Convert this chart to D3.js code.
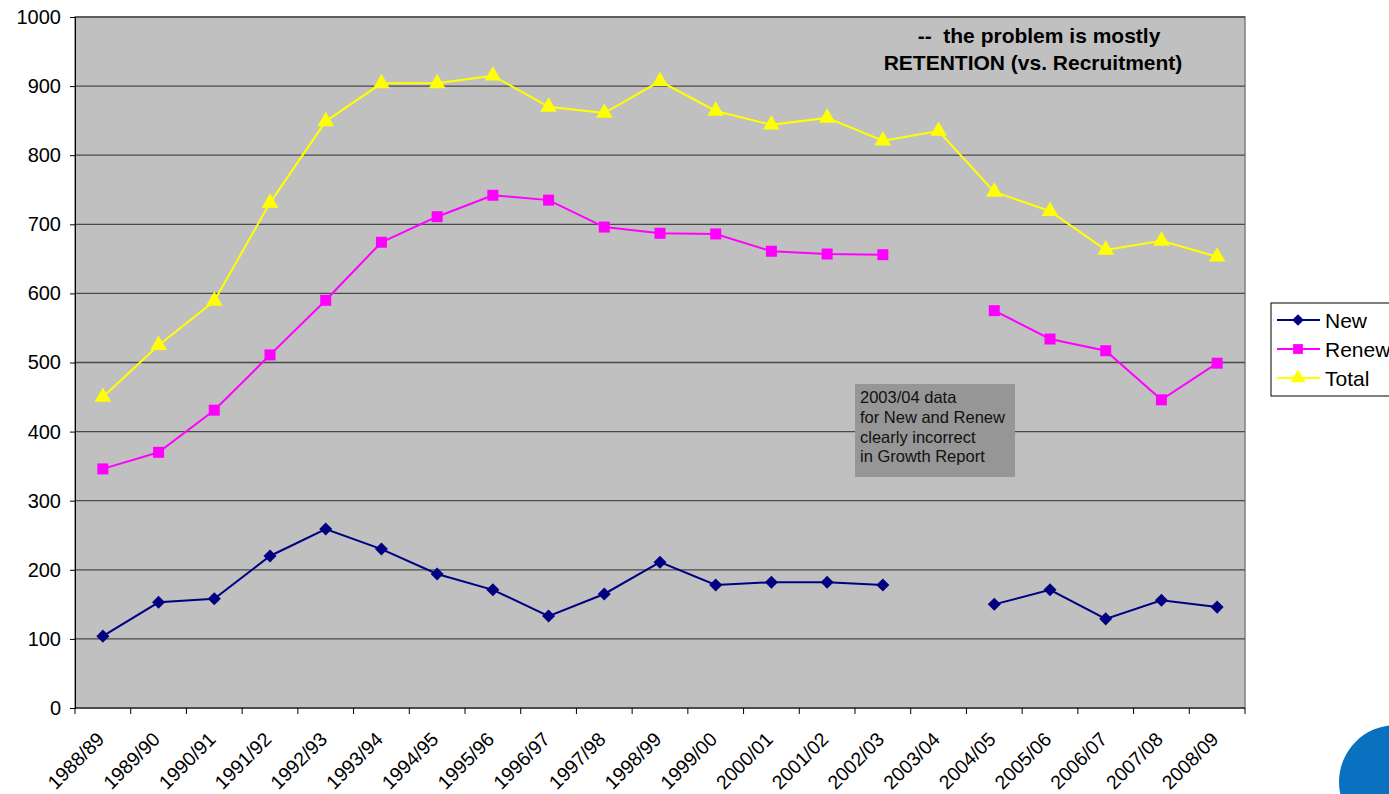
<!DOCTYPE html>
<html>
<head>
<meta charset="utf-8">
<script src="https://cdn.jsdelivr.net/npm/d3@7"></script>
<style>
	body { margin: 0; background: #fff; }
	svg { display: block; font-family: Arial, "Liberation Sans", sans-serif; }
	text { white-space: pre; }
</style>
</head>
<body>
<svg id="chart" width="1389" height="794"></svg>
<script>
// categories (school years) and series values
var years = ["1988/89", "1989/90", "1990/91", "1991/92", "1992/93", "1993/94", "1994/95",
	"1995/96", "1996/97", "1997/98", "1998/99", "1999/00", "2000/01", "2001/02", "2002/03",
	"2003/04", "2004/05", "2005/06", "2006/07", "2007/08", "2008/09"];
var newVals = [104, 153, 158, 220, 259, 230, 194, 171, 133, 165, 211, 178, 182, 182, 178,
	null, 150, 171, 129, 156, 146];
var renewVals = [346, 370, 431, 511, 590, 674, 711, 742, 735, 696, 687, 686, 661, 657, 656,
	null, 575, 534, 517, 446, 499];
var totalVals = [450, 525, 589, 731, 849, 904, 904, 915, 870, 861, 907, 864, 844, 854, 821,
	835, 747, 719, 663, 676, 653];
var yTicks = [0, 100, 200, 300, 400, 500, 600, 700, 800, 900, 1000];

// diamond = square turned 45 degrees
var series = [
	{name: "New", values: newVals, color: "#000080", symbol: d3.symbolSquare, size: 85, rot: 45},
	{name: "Renew", values: renewVals, color: "#FF00FF", symbol: d3.symbolSquare, size: 121, rot: 0},
	{name: "Total", values: totalVals, color: "#FFFF00", symbol: d3.symbolTriangle, size: 120, rot: 0}
];

var margin = {top: 17, left: 75},
	width = 1170,
	height = 691;

var svg = d3.select("#chart");
var g = svg.append("g")
	.attr("transform", "translate(" + margin.left + "," + margin.top + ")");

var x = d3.scaleBand()
	.domain(years)
	.range([0, width]);
var y = d3.scaleLinear()
	.domain([0, 1000])
	.range([height, 0]);

// plot background
g.append("rect")
	.attr("width", width)
	.attr("height", height)
	.attr("fill", "#C0C0C0")
	.attr("stroke", "#808080")
	.attr("stroke-width", 1.5);

// gridlines
g.selectAll(".grid")
	.data(yTicks.filter(function(d) { return d > 0; }))
	.enter().append("line")
	.attr("x1", 0)
	.attr("x2", width)
	.attr("y1", function(d) { return y(d); })
	.attr("y2", function(d) { return y(d); })
	.attr("stroke", "#4a4a4a")
	.attr("stroke-width", 1.3);

// y axis
var yAxis = g.append("g")
	.call(d3.axisLeft(y).tickValues(yTicks).tickFormat(d3.format("d")).tickSize(5).tickPadding(9));
yAxis.attr("font-family", null).attr("font-size", null);
yAxis.select(".domain").attr("stroke", "#000");
yAxis.selectAll("text").attr("font-size", 20).attr("fill", "#000");

// x axis: ticks between categories
var xAxis = g.append("g")
	.attr("transform", "translate(0," + height + ")");
xAxis.append("line")
	.attr("x1", 0).attr("x2", width)
	.attr("stroke", "#000");
xAxis.selectAll(".tk")
	.data(years.concat(["end"]))
	.enter().append("line")
	.attr("x1", function(d, i) { return i * x.step(); })
	.attr("x2", function(d, i) { return i * x.step(); })
	.attr("y1", 0).attr("y2", 6)
	.attr("stroke", "#000");
xAxis.selectAll(".lbl")
	.data(years)
	.enter().append("text")
	.attr("transform", function(d) {
		return "translate(" + (x(d) + x.bandwidth() / 2 - 7) + ",23) rotate(-45)";
	})
	.attr("text-anchor", "end")
	.attr("dy", "0.7em")
	.attr("font-size", 19.5)
	.text(function(d) { return d; });

// lines and markers
var line = d3.line()
	.defined(function(d) { return d != null; })
	.x(function(d, i) { return x(years[i]) + x.bandwidth() / 2; })
	.y(function(d) { return y(d); });

series.slice().reverse().forEach(function(s) {
	g.append("path")
		.datum(s.values)
		.attr("fill", "none")
		.attr("stroke", s.color)
		.attr("stroke-width", 2)
		.attr("d", line);
	g.selectAll(".m-" + s.name)
		.data(s.values.map(function(v, i) { return {v: v, i: i}; })
			.filter(function(d) { return d.v != null; }))
		.enter().append("path")
		.attr("d", d3.symbol().type(s.symbol).size(s.size))
		.attr("transform", function(d) {
			return "translate(" + (x(years[d.i]) + x.bandwidth() / 2) + "," + y(d.v) + ") rotate(" + s.rot + ")";
		})
		.attr("fill", s.color);
});

// title note
var note = g.append("text")
	.attr("text-anchor", "middle")
	.attr("font-size", 21)
	.attr("font-weight", "bold");
note.append("tspan").attr("x", 964).attr("y", 26).text("--  the problem is mostly");
note.append("tspan").attr("x", 958).attr("y", 53).text("RETENTION (vs. Recruitment)");

// annotation box
g.append("rect")
	.attr("x", 780).attr("y", 367)
	.attr("width", 160).attr("height", 93)
	.attr("fill", "#969696");
var ann = g.append("text").attr("font-size", 16.5).attr("fill", "#111");
["2003/04 data", "for New and Renew", "clearly incorrect", "in Growth Report"].forEach(function(t, i) {
	ann.append("tspan").attr("x", 785).attr("y", 386 + i * 19.8).text(t);
});

// legend
var legend = svg.append("g").attr("transform", "translate(1271,303)");
legend.append("rect")
	.attr("width", 130).attr("height", 93)
	.attr("fill", "#fff").attr("stroke", "#000");
series.forEach(function(s, i) {
	var ly = 17 + i * 29;
	legend.append("line")
		.attr("x1", 6).attr("x2", 49)
		.attr("y1", ly).attr("y2", ly)
		.attr("stroke", s.color).attr("stroke-width", 2);
	legend.append("path")
		.attr("d", d3.symbol().type(s.symbol).size(s.size * 0.8))
		.attr("transform", "translate(27," + ly + ") rotate(" + s.rot + ")")
		.attr("fill", s.color);
	legend.append("text")
		.attr("x", 54).attr("y", ly)
		.attr("dy", "0.36em")
		.attr("font-size", 21)
		.text(s.name);
});

// blue logo corner
svg.append("circle")
	.attr("cx", 1396).attr("cy", 782)
	.attr("r", 57)
	.attr("fill", "#0A70C0");
</script>
</body>
</html>
